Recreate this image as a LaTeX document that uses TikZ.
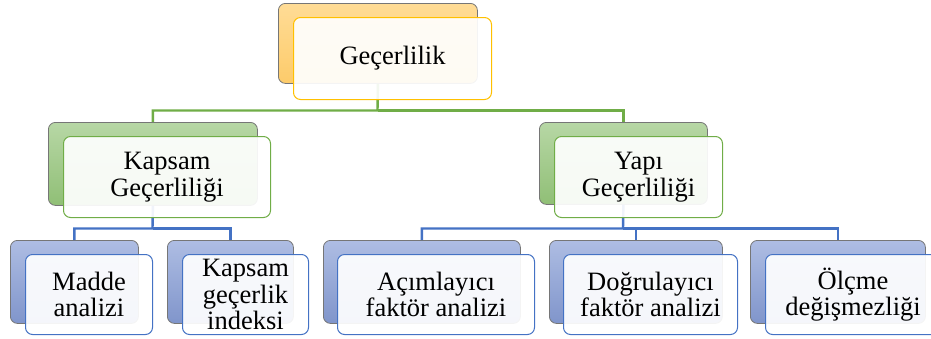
\documentclass[tikz,border=0pt]{standalone}
\usepackage{fontspec}
\setmainfont{Liberation Serif}
\definecolor{orTop}{HTML}{FFDC96}
\definecolor{orBot}{HTML}{FDCB6A}
\definecolor{grTop}{HTML}{B7D7A5}
\definecolor{grBot}{HTML}{90BF76}
\definecolor{blTop}{HTML}{AEBDE3}
\definecolor{blBot}{HTML}{8095CB}
\definecolor{backEdge}{HTML}{767676}
\definecolor{orEdge}{HTML}{FFC000}
\definecolor{grEdge}{HTML}{70AD47}
\definecolor{blEdge}{HTML}{4472C4}
\begin{document}
\begin{tikzpicture}[x=1pt,y=-1pt,
  backbox/.style 2 args={draw=backEdge, line width=0.8pt, rounded corners=7pt,
    top color=#1, bottom color=#2, anchor=north west, inner sep=0pt},
  frontbox/.style={draw=#1, line width=1pt, rounded corners=7pt, fill=white,
    fill opacity=0.92, text opacity=1, anchor=north west, inner sep=0pt,
    align=center, font=\fontsize{26.5}{26.5}\selectfont},
  gconn/.style={draw=grEdge, line width=2.4pt},
  bconn/.style={draw=blEdge, line width=2.4pt}]
\useasboundingbox (0,0) rectangle (931,338);
\clip (0,0) rectangle (931,338);

% back layers of the boxes
\node[backbox={orTop}{orBot}, minimum width=199pt, minimum height=80pt] (gb) at (278,3) {};
\node[backbox={grTop}{grBot}, minimum width=209pt, minimum height=83pt] (kb) at (48,122) {};
\node[backbox={grTop}{grBot}, minimum width=168pt, minimum height=82pt] (yb) at (539,122) {};
\node[backbox={blTop}{blBot}, minimum width=128pt, minimum height=83pt] (mb) at (10,240) {};
\node[backbox={blTop}{blBot}, minimum width=126pt, minimum height=83pt] (kib) at (167,240) {};
\node[backbox={blTop}{blBot}, minimum width=197pt, minimum height=83pt] (ab) at (323,240) {};
\node[backbox={blTop}{blBot}, minimum width=173pt, minimum height=83pt] (db) at (549,240) {};
\node[backbox={blTop}{blBot}, minimum width=175pt, minimum height=83pt] (ob) at (750,240) {};

% connectors
\coordinate (busG) at (377.5,110.5);
\coordinate (busK) at (152.5,228.5);
\coordinate (busY) at (623,228.5);
\draw[gconn] (gb.south) -- (busG) -| (kb.north);
\draw[gconn] (busG) -| (yb.north);
\draw[bconn] (kb.south) -- (busK) -| (mb.north);
\draw[bconn] (busK) -| (kib.north);
\draw[bconn] (yb.south) -- (busY) -| (ab.north);
\draw[bconn] (busY) -| (db.north);
\draw[bconn] (busY) -| (ob.north);

% front layers carrying the text
\node[frontbox=orEdge, minimum width=198pt, minimum height=82pt] (gf) at (293,17) {Geçerlilik};
\node[frontbox=grEdge, minimum width=207pt, minimum height=81pt] (kf) at (63,136) {Kapsam\\Geçerliliği};
\node[frontbox=grEdge, minimum width=168pt, minimum height=81pt] (yf) at (554,136) {Yapı\\Geçerliliği};
\node[frontbox=blEdge, minimum width=127pt, minimum height=80pt] (mf) at (25,254) {Madde\\analizi};
\node[frontbox=blEdge, minimum width=126pt, minimum height=80pt] (kif) at (182,254) {Kapsam\\geçerlik\\indeksi};
\node[frontbox=blEdge, minimum width=197pt, minimum height=80pt] (af) at (337,254) {Açımlayıcı\\faktör analizi};
\node[frontbox=blEdge, minimum width=174pt, minimum height=80pt] (df) at (563,254) {Doğrulayıcı\\faktör analizi};
\node[frontbox=blEdge, minimum width=175pt, minimum height=80pt] (of) at (765,254) {Ölçme\\değişmezliği};
\end{tikzpicture}
\end{document}
